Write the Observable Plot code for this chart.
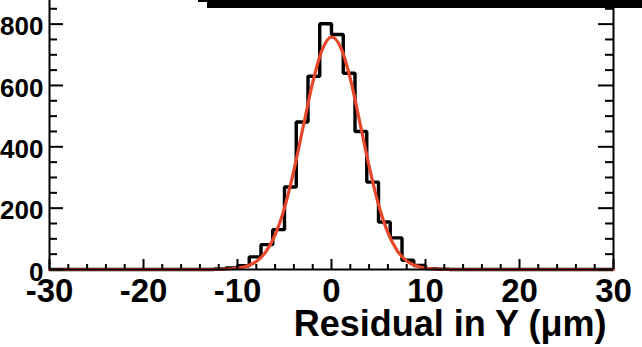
<!DOCTYPE html>
<html><head><meta charset="utf-8">
<script src="https://cdn.jsdelivr.net/npm/d3@7"></script>
<script src="https://cdn.jsdelivr.net/npm/@observablehq/plot@0.6"></script>
<style>
html,body{margin:0;padding:0;background:#fff;overflow:hidden;}
#wrap{position:relative;width:642px;height:347px;overflow:hidden;font-family:"Liberation Sans",Arial,Helvetica,sans-serif;}
#wrap svg{position:absolute;left:0;top:0;}
#stats{position:absolute;z-index:2;left:198px;top:-98px;width:470px;height:100px;border:2px solid #000;box-sizing:border-box;box-shadow:9px 6px 0 #000;background:#fff;}
</style></head><body>
<div id="wrap"><div id="stats"></div></div>
<script>
// ---- data ----
const xDomain = [-30, 30];
const yDomain = [0, 877];
const xMajorTicks = [-30, -20, -10, 0, 10, 20, 30];
const xMinorTicks = [-28, -26, -24, -22, -18, -16, -14, -12, -8, -6, -4, -2, 2, 4, 6, 8, 12, 14, 16, 18, 22, 24, 26, 28];
const yMajorTicks = [0, 200, 400, 600, 800];
const yMinorTicks = [50, 100, 150, 250, 300, 350, 450, 500, 550, 650, 700, 750, 850];
// histogram bin edges (only the populated range; the rest is empty)
const binEdges = [-12.5, -11.25, -10, -8.75, -7.5, -6.25, -5, -3.75, -2.5, -1.25, 0, 1.25, 2.5, 3.75, 5, 6.25, 7.5, 8.75, 10, 11.25, 12.5];
const binCounts = [2, 5, 12, 41, 81, 130, 269, 481, 630, 801, 766, 640, 450, 285, 155, 103, 30, 13, 3, 1];
// gaussian fit curve
const fitX = [-30, -14, -12, -10, -9, -8, -7, -6, -5, -4, -3, -2, -1, 0, 1, 2, 3, 4, 5, 6, 7, 8, 9, 10, 12, 14, 30];
const fitY = [0, 0, 0.4, 4, 11, 26, 57, 113, 201, 323, 467, 609, 716, 758, 723, 622, 482, 337, 212, 120, 61, 28, 12, 4, 0.4, 0, 0];
const xLabel = "Residual in Y (μm)";

// ---- derived tables ----
const histPts = [{x: xDomain[0], y: 0}, {x: binEdges[0], y: 0}];
binCounts.forEach((c, i) => { histPts.push({x: binEdges[i], y: c}); histPts.push({x: binEdges[i + 1], y: c}); });
histPts.push({x: binEdges[binEdges.length - 1], y: 0});
histPts.push({x: xDomain[1], y: 0});
const fitPts = fitX.map((x, i) => ({x, y: fitY[i]}));

const W = 642, H = 347, mL = 49, mR = 29, mT = 0, mB = 78;
const plotW = W - mL - mR, plotH = H - mT - mB;
const font = "Liberation Sans, Arial, Helvetica, sans-serif";

const chart = Plot.plot({
  width: W, height: H,
  marginLeft: mL, marginRight: mR, marginTop: mT, marginBottom: mB,
  style: {fontFamily: font, color: "#000", background: "transparent", overflow: "visible"},
  x: {domain: xDomain},
  y: {domain: yDomain},
  marks: [
    Plot.line(histPts, {x: "x", y: "y", stroke: "#000", strokeWidth: 3.4, strokeLinejoin: "miter", strokeLinecap: "butt"}),
    Plot.line(fitPts, {x: "x", y: "y", curve: "monotone-x", stroke: "#e6462a", strokeWidth: 3.2}),
    // frame lines
    Plot.ruleX([xDomain[0]], {stroke: "#000", strokeWidth: 2}),
    Plot.ruleX([xDomain[1]], {stroke: "#000", strokeWidth: 2}),
    Plot.ruleY([yDomain[0]], {stroke: "#000", strokeWidth: 2}),
    // x ticks (pointing up from the bottom axis)
    Plot.tickX(xMajorTicks, {x: d => d, insetTop: plotH - 10, stroke: "#000", strokeWidth: 2}),
    Plot.tickX(xMinorTicks, {x: d => d, insetTop: plotH - 5, stroke: "#000", strokeWidth: 2}),
    // left y ticks
    Plot.tickY(yMajorTicks, {y: d => d, insetRight: plotW - 14, stroke: "#000", strokeWidth: 2}),
    Plot.tickY(yMinorTicks, {y: d => d, insetRight: plotW - 8, stroke: "#000", strokeWidth: 2}),
    // right y ticks
    Plot.tickY(yMajorTicks, {y: d => d, insetLeft: plotW - 15, stroke: "#000", strokeWidth: 2}),
    Plot.tickY(yMinorTicks, {y: d => d, insetLeft: plotW - 8, stroke: "#000", strokeWidth: 2}),
    Plot.axisX({ticks: xMajorTicks, tickSize: 0, tickPadding: 9, fontSize: 33, fontWeight: "bold", label: null, tickFormat: d => String(d)}),
    Plot.axisY({ticks: yMajorTicks, tickSize: 0, tickPadding: 6, fontSize: 26, fontWeight: "bold", dy: 3, label: null, tickFormat: d => String(d)}),
    Plot.text([xLabel], {text: d => d, frameAnchor: "bottom-right", textAnchor: "end", lineAnchor: "bottom", dx: -7, dy: 66, fontSize: 36, fontWeight: "bold", fill: "#000"})
  ]
});
document.getElementById("wrap").prepend(chart);
</script>
</body></html>
